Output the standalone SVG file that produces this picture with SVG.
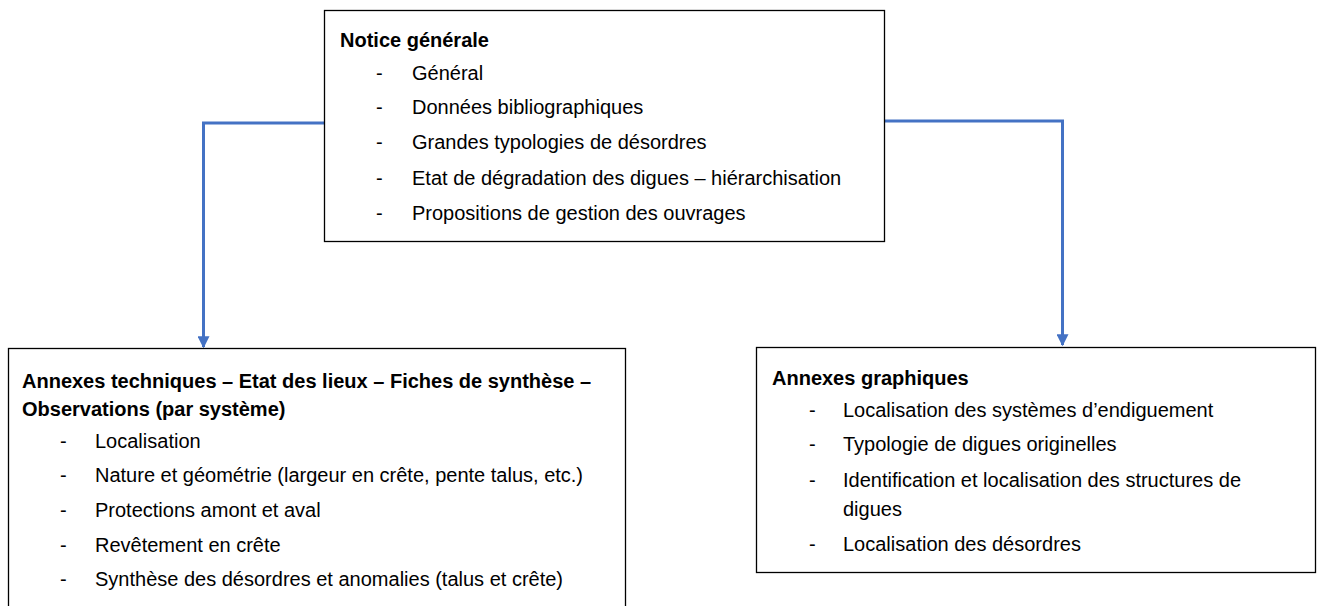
<svg xmlns="http://www.w3.org/2000/svg" width="1317" height="606" viewBox="0 0 1317 606">
<style>
.box{fill:#fff;stroke:#000;stroke-width:1.3}
.t{font-family:"Liberation Sans",Arial,sans-serif;font-size:20px;fill:#000}
.b{font-weight:bold}
.conn{fill:none;stroke:#4472C4;stroke-width:3}
</style>
<defs>
<marker id="arr" viewBox="0 0 10 10" refX="9" refY="5" markerWidth="4" markerHeight="4" orient="auto" markerUnits="strokeWidth">
<path d="M0,0 L10,5 L0,10 z" fill="#4472C4"/>
</marker>
</defs>
<g id="connectors">
<path class="conn" d="M324,123 H203.5 V347" marker-end="url(#arr)"/>
<path class="conn" d="M884,121 H1062.5 V345" marker-end="url(#arr)"/>
</g>
<g id="notice">
<rect class="box" x="324.5" y="10.5" width="560" height="231"/>
<text class="t b" x="340" y="47">Notice générale</text>
<g class="t">
<text x="376" y="80">-</text><text x="412" y="80">Général</text>
<text x="376" y="114">-</text><text x="412" y="114">Données bibliographiques</text>
<text x="376" y="149">-</text><text x="412" y="149">Grandes typologies de désordres</text>
<text x="376" y="185">-</text><text x="412" y="185">Etat de dégradation des digues – hiérarchisation</text>
<text x="376" y="220">-</text><text x="412" y="220">Propositions de gestion des ouvrages</text>
</g>
</g>
<g id="annexes-techniques">
<rect class="box" x="8.5" y="348.5" width="617" height="270"/>
<text class="t b" x="22" y="388">Annexes techniques – Etat des lieux – Fiches de synthèse –</text>
<text class="t b" x="22" y="416">Observations (par système)</text>
<g class="t">
<text x="60" y="448">-</text><text x="95" y="448">Localisation</text>
<text x="60" y="482">-</text><text x="95" y="482">Nature et géométrie (largeur en crête, pente talus, etc.)</text>
<text x="60" y="517">-</text><text x="95" y="517">Protections amont et aval</text>
<text x="60" y="552">-</text><text x="95" y="552">Revêtement en crête</text>
<text x="60" y="586">-</text><text x="95" y="586">Synthèse des désordres et anomalies (talus et crête)</text>
</g>
</g>
<g id="annexes-graphiques">
<rect class="box" x="756.5" y="347.5" width="559" height="225"/>
<text class="t b" x="772" y="385">Annexes graphiques</text>
<g class="t">
<text x="809" y="417">-</text><text x="843" y="417">Localisation des systèmes d’endiguement</text>
<text x="809" y="451">-</text><text x="843" y="451">Typologie de digues originelles</text>
<text x="809" y="487">-</text><text x="843" y="487">Identification et localisation des structures de</text>
<text x="843" y="516">digues</text>
<text x="809" y="551">-</text><text x="843" y="551">Localisation des désordres</text>
</g>
</g>
</svg>
